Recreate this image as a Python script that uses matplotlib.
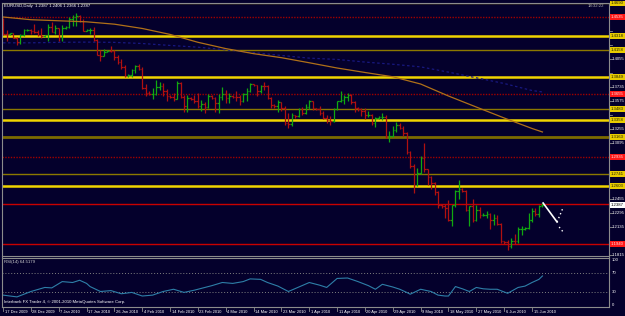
import numpy as np
import matplotlib
matplotlib.use("Agg")
import matplotlib.pyplot as plt
from matplotlib.lines import Line2D


# daily EURUSD bars (one per trading day incl. Sunday bars), 17 Dec 2009 .. 18 Jun 2010
opens = [
    1.4500, 1.4345, 1.4340, 1.4350, 1.4295, 1.4245, 1.4330, 1.4385, 1.4390, 1.4370,
    1.4365, 1.4330, 1.4320, 1.4330, 1.4420, 1.4365, 1.4410, 1.4310, 1.4405, 1.4420,
    1.4510, 1.4530, 1.4550, 1.4495, 1.4380, 1.4385, 1.4390, 1.4275, 1.4105, 1.4090,
    1.4140, 1.4150, 1.4145, 1.4080, 1.4020, 1.3965, 1.3865, 1.3870, 1.3930, 1.3970,
    1.3940, 1.3725, 1.3670, 1.3655, 1.3660, 1.3740, 1.3745, 1.3690, 1.3630, 1.3625,
    1.3600, 1.3780, 1.3620, 1.3520, 1.3610, 1.3600, 1.3570, 1.3520, 1.3540, 1.3510,
    1.3630, 1.3610, 1.3550, 1.3620, 1.3660, 1.3610, 1.3630, 1.3625, 1.3620, 1.3570,
    1.3650, 1.3690, 1.3770, 1.3755, 1.3690, 1.3750, 1.3745, 1.3610, 1.3530, 1.3520,
    1.3560, 1.3500, 1.3320, 1.3310, 1.3410, 1.3400, 1.3480, 1.3440, 1.3510, 1.3570,
    1.3490, 1.3480, 1.3440, 1.3380, 1.3360, 1.3350, 1.3480, 1.3570, 1.3590, 1.3620,
    1.3640, 1.3560, 1.3500, 1.3480, 1.3460, 1.3410, 1.3420, 1.3320, 1.3380, 1.3390,
    1.3390, 1.3180, 1.3180, 1.3240, 1.3300, 1.3270, 1.3210, 1.2990, 1.2830, 1.2620,
    1.2750, 1.2920, 1.2800, 1.2710, 1.2640, 1.2530, 1.2390, 1.2370, 1.2355, 1.2210,
    1.2385, 1.2550, 1.2570, 1.2545, 1.2330, 1.2380, 1.2210, 1.2330, 1.2270, 1.2275,
    1.2280, 1.2220, 1.2240, 1.2170, 1.1970, 1.1960, 1.1920, 1.1980, 1.1970, 1.2110,
    1.2110, 1.2125, 1.2220, 1.2320, 1.2280, 1.2387,
]
highs = [
    1.4520, 1.4390, 1.4355, 1.4355, 1.4305, 1.4340, 1.4395, 1.4400, 1.4400, 1.4450,
    1.4390, 1.4410, 1.4335, 1.4450, 1.4480, 1.4440, 1.4415, 1.4440, 1.4430, 1.4540,
    1.4560, 1.4580, 1.4560, 1.4510, 1.4395, 1.4410, 1.4425, 1.4285, 1.4160, 1.4170,
    1.4160, 1.4200, 1.4160, 1.4100, 1.4055, 1.3990, 1.3880, 1.3945, 1.3990, 1.4000,
    1.3960, 1.3770, 1.3685, 1.3720, 1.3820, 1.3790, 1.3785, 1.3710, 1.3645, 1.3670,
    1.3800, 1.3790, 1.3640, 1.3645, 1.3625, 1.3640, 1.3665, 1.3585, 1.3560, 1.3650,
    1.3640, 1.3620, 1.3650, 1.3740, 1.3700, 1.3670, 1.3640, 1.3690, 1.3640, 1.3670,
    1.3720, 1.3780, 1.3775, 1.3760, 1.3760, 1.3790, 1.3760, 1.3625, 1.3540, 1.3590,
    1.3560, 1.3520, 1.3440, 1.3435, 1.3420, 1.3500, 1.3510, 1.3540, 1.3590, 1.3570,
    1.3500, 1.3520, 1.3460, 1.3410, 1.3400, 1.3495, 1.3580, 1.3690, 1.3640, 1.3665,
    1.3650, 1.3575, 1.3505, 1.3500, 1.3490, 1.3460, 1.3430, 1.3390, 1.3400, 1.3440,
    1.3420, 1.3230, 1.3290, 1.3330, 1.3320, 1.3290, 1.3220, 1.3005, 1.2850, 1.2810,
    1.2950, 1.3095, 1.2800, 1.2720, 1.2650, 1.2550, 1.2400, 1.2395, 1.2440, 1.2390,
    1.2560, 1.2675, 1.2580, 1.2555, 1.2380, 1.2450, 1.2385, 1.2360, 1.2290, 1.2315,
    1.2300, 1.2280, 1.2275, 1.2180, 1.1980, 1.1990, 1.2010, 1.2060, 1.2130, 1.2150,
    1.2140, 1.2300, 1.2350, 1.2355, 1.2390, 1.2406,
]
lows = [
    1.4335, 1.4265, 1.4330, 1.4290, 1.4220, 1.4230, 1.4320, 1.4375, 1.4340, 1.4355,
    1.4315, 1.4300, 1.4310, 1.4260, 1.4360, 1.4340, 1.4260, 1.4265, 1.4400, 1.4410,
    1.4430, 1.4435, 1.4475, 1.4370, 1.4370, 1.4340, 1.4265, 1.4100, 1.4030, 1.4090,
    1.4130, 1.4130, 1.4040, 1.4000, 1.3940, 1.3855, 1.3855, 1.3855, 1.3895, 1.3925,
    1.3715, 1.3630, 1.3640, 1.3595, 1.3640, 1.3700, 1.3630, 1.3580, 1.3610, 1.3580,
    1.3595, 1.3605, 1.3450, 1.3445, 1.3590, 1.3550, 1.3490, 1.3460, 1.3435, 1.3500,
    1.3595, 1.3450, 1.3435, 1.3590, 1.3550, 1.3550, 1.3615, 1.3580, 1.3530, 1.3560,
    1.3580, 1.3680, 1.3745, 1.3630, 1.3665, 1.3705, 1.3595, 1.3490, 1.3500, 1.3445,
    1.3465, 1.3300, 1.3265, 1.3295, 1.3385, 1.3390, 1.3420, 1.3425, 1.3480, 1.3470,
    1.3470, 1.3420, 1.3365, 1.3325, 1.3305, 1.3340, 1.3475, 1.3565, 1.3540, 1.3580,
    1.3540, 1.3445, 1.3460, 1.3400, 1.3375, 1.3390, 1.3300, 1.3280, 1.3370, 1.3355,
    1.3150, 1.3110, 1.3160, 1.3225, 1.3260, 1.3180, 1.2965, 1.2815, 1.2520, 1.2600,
    1.2740, 1.2760, 1.2620, 1.2575, 1.2500, 1.2355, 1.2350, 1.2235, 1.2200, 1.2145,
    1.2360, 1.2450, 1.2530, 1.2320, 1.2150, 1.2190, 1.2205, 1.2240, 1.2260, 1.2240,
    1.2110, 1.2155, 1.2155, 1.1955, 1.1940, 1.1876, 1.1900, 1.1945, 1.1955, 1.2040,
    1.2100, 1.2115, 1.2190, 1.2260, 1.2250, 1.2366,
]
closes = [
    1.4345, 1.4340, 1.4350, 1.4295, 1.4245, 1.4330, 1.4385, 1.4390, 1.4370, 1.4365,
    1.4330, 1.4320, 1.4330, 1.4420, 1.4365, 1.4410, 1.4310, 1.4405, 1.4420, 1.4510,
    1.4530, 1.4550, 1.4495, 1.4380, 1.4385, 1.4390, 1.4275, 1.4105, 1.4090, 1.4140,
    1.4150, 1.4145, 1.4080, 1.4020, 1.3965, 1.3865, 1.3870, 1.3930, 1.3970, 1.3940,
    1.3725, 1.3670, 1.3655, 1.3660, 1.3740, 1.3745, 1.3690, 1.3630, 1.3625, 1.3600,
    1.3780, 1.3620, 1.3520, 1.3610, 1.3600, 1.3570, 1.3520, 1.3540, 1.3510, 1.3630,
    1.3610, 1.3550, 1.3620, 1.3660, 1.3610, 1.3630, 1.3625, 1.3620, 1.3570, 1.3650,
    1.3690, 1.3770, 1.3755, 1.3690, 1.3750, 1.3745, 1.3610, 1.3530, 1.3520, 1.3560,
    1.3500, 1.3320, 1.3310, 1.3410, 1.3400, 1.3480, 1.3440, 1.3510, 1.3570, 1.3490,
    1.3480, 1.3440, 1.3380, 1.3360, 1.3350, 1.3480, 1.3570, 1.3590, 1.3620, 1.3640,
    1.3560, 1.3500, 1.3480, 1.3460, 1.3410, 1.3420, 1.3320, 1.3380, 1.3390, 1.3390,
    1.3180, 1.3180, 1.3240, 1.3300, 1.3270, 1.3210, 1.2990, 1.2830, 1.2620, 1.2750,
    1.2920, 1.2800, 1.2710, 1.2640, 1.2530, 1.2390, 1.2370, 1.2355, 1.2210, 1.2385,
    1.2550, 1.2570, 1.2545, 1.2330, 1.2380, 1.2210, 1.2330, 1.2270, 1.2275, 1.2280,
    1.2220, 1.2240, 1.2170, 1.1970, 1.1960, 1.1920, 1.1980, 1.1970, 1.2110, 1.2110,
    1.2125, 1.2220, 1.2320, 1.2280, 1.2380, 1.2387,
]

date_labels = [
    "17 Dec 2009", "28 Dec 2009", "7 Jan 2010", "17 Jan 2010", "26 Jan 2010",
    "4 Feb 2010", "14 Feb 2010", "23 Feb 2010", "4 Mar 2010", "14 Mar 2010",
    "23 Mar 2010", "1 Apr 2010", "11 Apr 2010", "20 Apr 2010", "29 Apr 2010",
    "9 May 2010", "18 May 2010", "27 May 2010", "6 Jun 2010", "15 Jun 2010",
]

# slow moving averages, read every 8 bars
ma_bars = [0, 8, 16, 24, 32, 40, 48, 56, 64, 72, 80, 88, 96, 104, 112, 120, 128, 136, 144, 152, 155]
ma_orange = [1.4535, 1.4504, 1.4492, 1.4480, 1.4453, 1.4404, 1.4336, 1.4246, 1.4174, 1.4116,
             1.4070, 1.4012, 1.3952, 1.3901, 1.3852, 1.3769, 1.3632, 1.3506, 1.3381, 1.3261, 1.3221]
ma_blue = [1.4240, 1.4240, 1.4245, 1.4248, 1.4245, 1.4232, 1.4210, 1.4190, 1.4160, 1.4128,
           1.4095, 1.4065, 1.4050, 1.4020, 1.3995, 1.3965, 1.3905, 1.3840, 1.3775, 1.3695, 1.3678]

# RSI(14)
rsi_bars = [0, 4, 8, 12, 14, 17, 20, 22, 24, 25, 28, 31, 34, 37, 40, 43, 46, 49, 52, 55,
            57, 60, 63, 66, 69, 71, 74, 76, 79, 82, 85, 88, 91, 93, 96, 99, 102, 105, 107, 109,
            112, 114, 116, 117, 120, 123, 125, 127, 128, 130, 132, 134, 136, 138, 140, 142, 145,
            148, 150, 152, 154, 155]
rsi_vals = [22, 18, 30, 39, 38, 52, 50, 55, 48, 41, 30, 32, 25, 28, 20, 22, 30, 35, 28, 33,
            37, 43, 50, 48, 52, 58, 57, 50, 42, 30, 40, 50, 44, 39, 59, 60, 52, 43, 35, 46,
            40, 35, 28, 24, 35, 30, 22, 20, 20, 41, 36, 30, 39, 36, 35, 35, 26,
            39, 42, 50, 57, 64.5]

# horizontal levels drawn on the chart
levels = [1.4690, 1.4535, 1.4318, 1.4158, 1.3849, 1.3655, 1.3483, 1.3358, 1.3163,
          1.2935, 1.2741, 1.2603, 1.2400, 1.1940]
level_kinds = ["olive", "reddot", "yellow", "olive", "yellow", "reddot", "olive", "yellow",
               "olive2", "reddot", "olive", "yellow", "red", "red"]
level_labelled = [True] * 12 + [False, True]

# projection drawn after the last bar
proj_solid_x = [155.2, 159.2]
proj_solid_y = [1.2409, 1.2192]
proj_up_x = [159.2, 161.0]
proj_up_y = [1.2192, 1.2363]
proj_down_x = [159.8, 161.2]
proj_down_y = [1.2135, 1.2066]

bid = 1.2387
price_ticks = [1.1815 + 0.016 * k for k in range(17)]
rsi_levels = [70, 30]


########## STYLE ##########
BG = "#04002c"
FRAME = "#8c8c8c"
UP = "#10a810"
DOWN = "#b01010"
W, H = 625, 316
FONT = ["Liberation Sans", "DejaVu Sans"]
FS = 3.1
FS_DATE = 2.9

kind_style = {
    "yellow": dict(color="#f0d400", lw=1.8, ls="-"),
    "olive": dict(color="#8c7800", lw=1.0, ls="-"),
    "olive2": dict(color="#7c6a00", lw=2.0, ls="-"),
    "reddot": dict(color="#a00000", lw=1.0, ls=(0, (1, 1))),
    "red": dict(color="#c80000", lw=1.0, ls="-"),
}
kind_box = {
    "yellow": ("#e8cc00", "#202000"),
    "olive": ("#e8cc00", "#202000"),
    "olive2": ("#e8cc00", "#202000"),
    "reddot": ("#ff1818", "#ffe0e0"),
    "red": ("#ff1818", "#ffe0e0"),
}


def fx(px):
    return px / W


def fy(py):
    return 1 - py / H


fig = plt.figure(figsize=(W / 100, H / 100), dpi=100, facecolor=BG)

XMIN = -0.3
XMAX = XMIN + 607 / 3.48

# main price panel
ax = fig.add_axes([fx(2), fy(255), fx(607), (255 - 3) / H])
ax.set_facecolor(BG)
ax.set_xlim(XMIN, XMAX)
ax.set_ylim(1.1815, 1.4695)
ax.axis("off")

for lev, kind in zip(levels, level_kinds):
    ax.axhline(lev, zorder=1, **kind_style[kind])

ax.plot(ma_bars, ma_blue, color="#181880", lw=0.9, ls=(0, (2, 2)), zorder=2)
ax.plot(ma_bars, ma_orange, color="#b07018", lw=0.9, zorder=4)

x = np.arange(len(closes))
o = np.array(opens)
c = np.array(closes)
cols = np.where(c >= o, UP, DOWN)
ax.vlines(x, lows, highs, colors=cols, lw=0.9, zorder=3)
ax.hlines(o, x - 0.45, x, colors=cols, lw=0.9, zorder=3)
ax.hlines(c, x, x + 0.45, colors=cols, lw=0.9, zorder=3)

ax.plot(proj_solid_x, proj_solid_y, color="white", lw=1.2, zorder=5)
ax.plot(proj_up_x, proj_up_y, color="white", lw=1.0, ls=(0, (1, 2)), zorder=5)
ax.plot(proj_down_x, proj_down_y, color="white", lw=1.0, ls=(0, (1, 2)), zorder=5)

# RSI panel
rx = fig.add_axes([fx(2), fy(307), fx(607), (307 - 258) / H])
rx.set_facecolor(BG)
rx.set_xlim(XMIN, XMAX)
rx.set_ylim(-4.4, 104.4)
rx.axis("off")
for lv in rsi_levels:
    rx.axhline(lv, color="#808080", lw=0.7, ls=(0, (1, 2)))
rx.plot(rsi_bars, rsi_vals, color="#2e7fa8", lw=0.8)

# frame lines
overlay = fig.add_axes([0, 0, 1, 1], facecolor="none")
overlay.set_xlim(0, W)
overlay.set_ylim(H, 0)
overlay.axis("off")
for seg in [((2, 609), (3, 3)), ((2, 2), (3, 307)), ((609, 609), (3, 307)),
            ((2, 609), (256, 256)), ((2, 609), (257.5, 257.5)), ((2, 609), (307, 307))]:
    overlay.add_line(Line2D(seg[0], seg[1], color=FRAME, lw=0.8))

# price axis ticks and labels
to_py = lambda p: 3 + (1.4695 - p) / (1.4695 - 1.1815) * 252
box_rows = [to_py(lv) for lv, lab in zip(levels, level_labelled) if lab] + [to_py(bid)]
for p in price_ticks:
    yy = to_py(p)
    overlay.add_line(Line2D((609, 612), (yy, yy), color=FRAME, lw=0.6))
    if min(abs(yy - b) for b in box_rows) < 5:
        continue
    overlay.text(611.5, yy, f"{p:.4f}", color="white", fontsize=FS, family=FONT,
                 va="center", ha="left")

for lev, kind, lab in zip(levels, level_kinds, level_labelled):
    if not lab:
        continue
    bg, fg = kind_box[kind]
    overlay.text(611, to_py(lev), f"{lev:.4f}", color=fg, fontsize=FS, family=FONT,
                 va="center", ha="left", zorder=6,
                 bbox=dict(boxstyle="square,pad=0.2", fc=bg, ec="none"))
overlay.text(611, to_py(bid), f"{bid:.4f}", color="black", fontsize=FS, family=FONT,
             va="center", ha="left", zorder=7,
             bbox=dict(boxstyle="square,pad=0.2", fc="white", ec="none"))

# RSI scale
to_ry = lambda v: 258 + (104.4 - v) / 108.8 * 49
for v in [100, 70, 30, 0]:
    overlay.text(612, to_ry(v), str(v), color="white", fontsize=FS, family=FONT,
                 va="center", ha="left")

# date axis
px_per_bar = 607 / (XMAX - XMIN)
for k, lab in enumerate(date_labels):
    xp = 2 + (8 * k - XMIN) * px_per_bar
    overlay.add_line(Line2D((xp, xp), (307, 311), color=FRAME, lw=0.6))
    overlay.text(xp + 1.5, 312, lab, color="white", fontsize=FS_DATE, family=FONT,
                 va="center", ha="left")

# texts
overlay.text(4, 5.5, "EURUSD,Daily  1.2387 1.2406 1.2366 1.2387", color="white",
             fontsize=FS, family=FONT, va="center", ha="left")
overlay.text(604, 6, "18:32:22", color="#b0b0b0", fontsize=FS, family=FONT,
             va="center", ha="right")
overlay.text(4, 262, "RSI(14) 64.5179", color="#d0d0d0", fontsize=FS, family=FONT,
             va="center", ha="left")
overlay.text(4, 302.5, "Interbank FX Trader 4, \u00a9 2001-2010 MetaQuotes Software Corp.",
             color="white", fontsize=FS, family=FONT, va="center", ha="left")

fig.savefig("out.png", dpi=100, facecolor=BG)
